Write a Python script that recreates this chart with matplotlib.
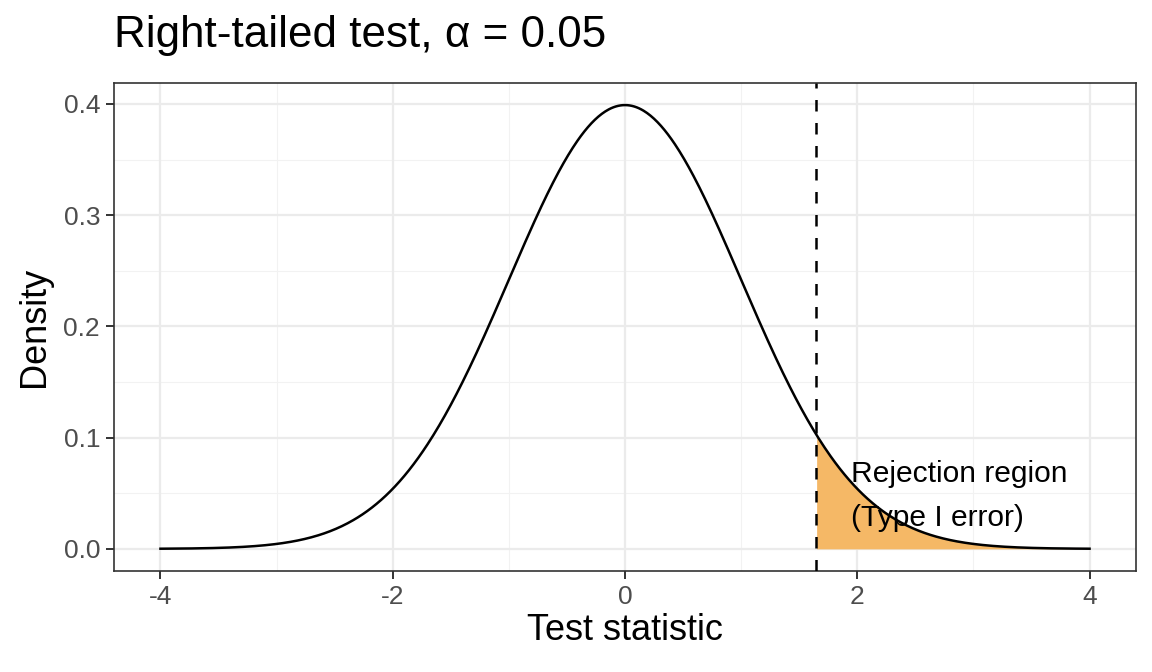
import numpy as np
import matplotlib.pyplot as plt

plt.rcParams['font.family'] = ['Liberation Sans', 'DejaVu Sans']

# standard normal test statistic, right tail
mu = 0.0
sigma = 1.0
x_range = [-4, 4]
alpha = 0.05
crit = 1.645
title = "Right-tailed test, α = 0.05"
label_text = "Rejection region\n(Type I error)"
label_pos = [1.95, 0.0475]
x_ticks = [-4, -2, 0, 2, 4]
y_ticks = [0.0, 0.1, 0.2, 0.3, 0.4]

x = np.linspace(x_range[0], x_range[1], 801)
dens = np.exp(-0.5 * ((x - mu) / sigma) ** 2) / (sigma * np.sqrt(2 * np.pi))

fig = plt.figure(figsize=(11.52, 6.72), dpi=100)
ax = fig.add_axes([114 / 1152, 1 - 571 / 672, 1022 / 1152, 488 / 672])

ax.set_xlim(-4.4, 4.4)
ax.set_ylim(-0.0199, 0.4188)

# grid like theme_bw
for v in [-3, -1, 1, 3]:
    ax.axvline(v, color='#F2F2F2', lw=0.8, zorder=0)
for v in [0.05, 0.15, 0.25, 0.35]:
    ax.axhline(v, color='#F2F2F2', lw=0.8, zorder=0)
for v in x_ticks:
    ax.axvline(v, color='#EBEBEB', lw=1.6, zorder=0)
for v in y_ticks:
    ax.axhline(v, color='#EBEBEB', lw=1.6, zorder=0)

tail = x >= crit
ax.fill_between(x[tail], 0, dens[tail], color='#F5B866', lw=0, zorder=2)
ax.plot(x, dens, color='black', lw=1.8, zorder=3)
ax.axvline(crit, color='black', lw=1.8, ls=(0, (4.6, 4.6)), zorder=4)
ax.text(label_pos[0], label_pos[1], label_text, ha='left', va='center',
        fontsize=21.6, linespacing=1.7, zorder=5)

ax.set_xticks(x_ticks)
ax.set_xticklabels([str(t) for t in x_ticks])
ax.set_yticks(y_ticks)
ax.set_yticklabels(['%.1f' % t for t in y_ticks])
ax.tick_params(colors='#333333', labelcolor='#4D4D4D', labelsize=19,
               length=6, width=1.4, pad=4)
for s in ax.spines.values():
    s.set_color('#333333')
    s.set_linewidth(1.2)

ax.set_xlabel("Test statistic", fontsize=26, labelpad=3)
ax.set_ylabel("Density", fontsize=26, labelpad=8)
fig.text(114 / 1152, 1 - 35 / 672, title, fontsize=31.7, ha='left', va='center')

fig.savefig("out.png", dpi=100)
